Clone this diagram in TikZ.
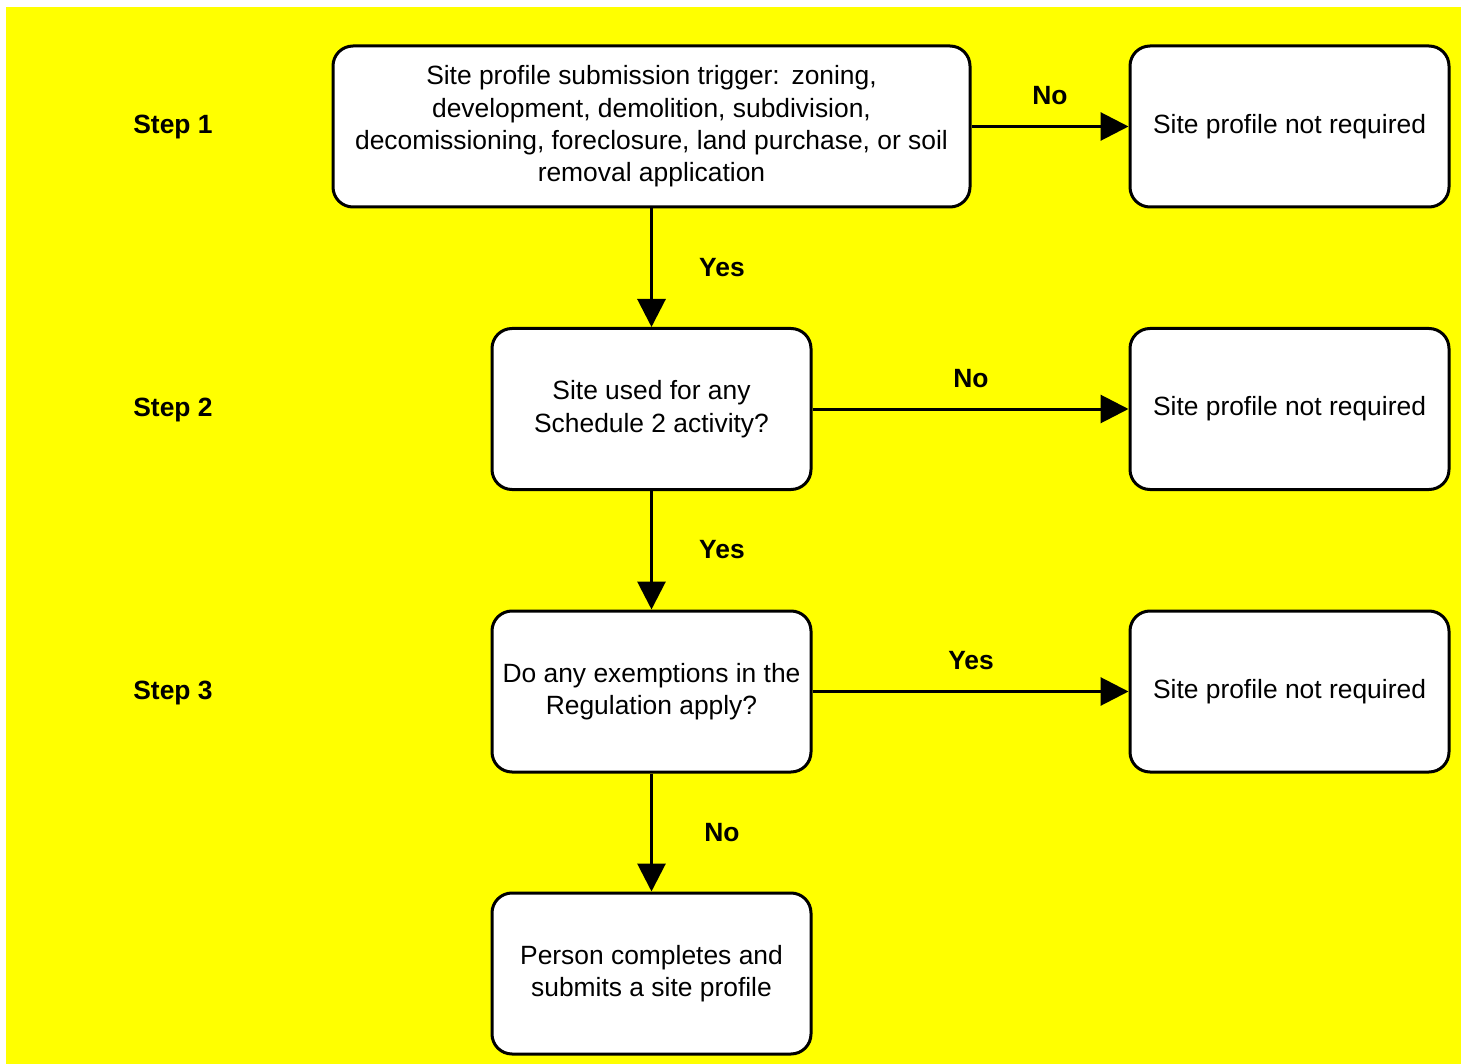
\documentclass[tikz,border=0pt]{standalone}
\usepackage{fontspec}
\setmainfont{Liberation Sans}
\usepackage{tikz}
\usetikzlibrary{arrows.meta}
\definecolor{bgyellow}{RGB}{255,255,0}

\begin{document}
\begin{tikzpicture}[x=0.5pt,y=0.5pt,yscale=-1,xscale=1,
  box/.style={draw=black,line width=1.5pt,fill=white,rounded corners=10pt,minimum width=159.5pt,minimum height=80.5pt,inner sep=0pt,align=center,font=\fontsize{13.2}{16.2}\selectfont},
  steplabel/.style={inner sep=0pt,font=\fontsize{13.2}{16.2}\selectfont\bfseries},
  answer/.style={inner sep=0pt,font=\fontsize{13.2}{16.2}\selectfont\bfseries},
  flow/.style={line width=1.5pt,-{Triangle[length=14pt,width=14pt]}}]
\useasboundingbox (0,0) rectangle (1468,1064);
%background
\fill[bgyellow] (6,7) rectangle (1461,1064);

% Step labels
\node[steplabel] (s1) at (173,127) {Step 1};
\node[steplabel] (s2) at (173,410) {Step 2};
\node[steplabel] (s3) at (173,693) {Step 3};

% Main column
\node[box,minimum width=318.5pt] (trigger) at (651.5,126.5) {Site profile submission trigger:\ \,zoning,\\ development, demolition, subdivision,\\ decomissioning, foreclosure, land purchase, or soil\\ removal application};
\node[box] (sched) at (651.5,409) {Site used for any\\ Schedule 2 activity?};
\node[box] (exempt) at (651.5,691.5) {Do any exemptions in the\\ Regulation apply?};
\node[box] (submit) at (651.5,973.5) {Person completes and\\ submits a site profile};

% Right column
\node[box] (nr1) at (1289.5,126.5) {Site profile not required};
\node[box] (nr2) at (1289.5,409) {Site profile not required};
\node[box] (nr3) at (1289.5,691.5) {Site profile not required};

% Connectors
\draw[flow] (trigger) -- (sched);
\draw[flow] (sched) -- (exempt);
\draw[flow] (exempt) -- (submit);
\draw[flow] (trigger) -- (nr1);
\draw[flow] (sched) -- (nr2);
\draw[flow] (exempt) -- (nr3);

% Answers
\node[answer] (a1) at (1050,96) {No};
\node[answer] (a2) at (722,268) {Yes};
\node[answer] (a3) at (971,379) {No};
\node[answer] (a4) at (722,550) {Yes};
\node[answer] (a5) at (971,661) {Yes};
\node[answer] (a6) at (722,833) {No};

\end{tikzpicture}
\end{document}
